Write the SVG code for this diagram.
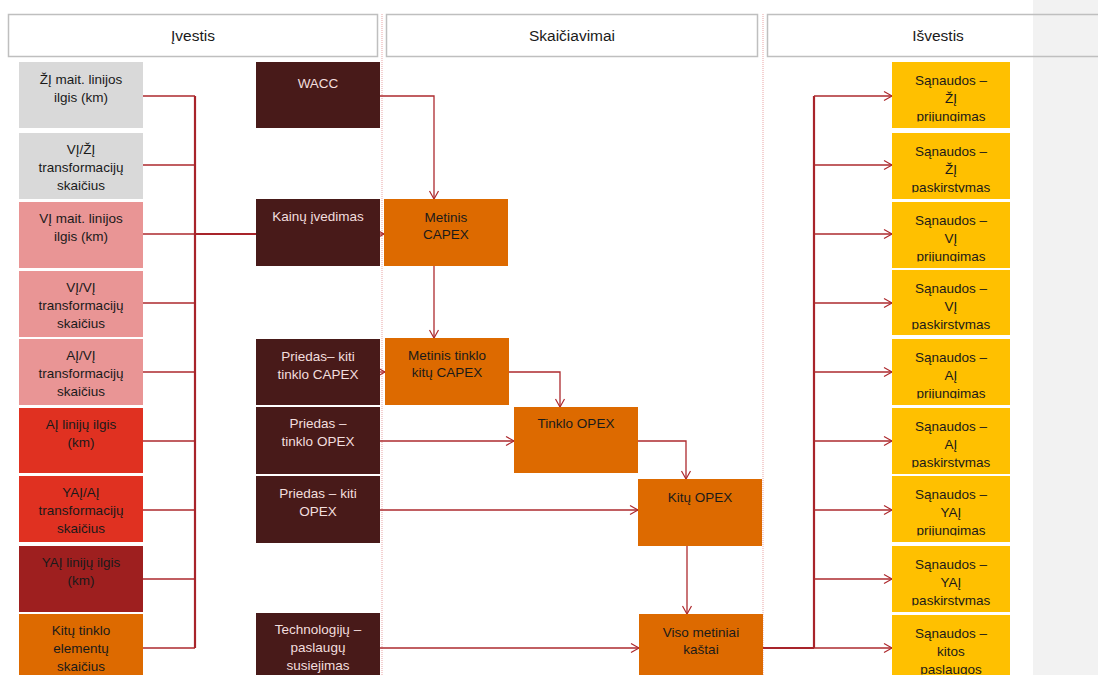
<svg xmlns="http://www.w3.org/2000/svg" width="1098" height="675" viewBox="0 0 1098 675">
<style>
text{font-family:"Liberation Sans",Arial,sans-serif;font-size:13.5px;text-anchor:middle;fill:#1a1a1a}
.hd{font-size:15.5px}
.lt{fill:#f2dede}
.hdr{fill:none;stroke:#bfbfbf;stroke-width:1.5}
.g{fill:#d9d9d9}.p{fill:#e99595}.r{fill:#e03121}.dr{fill:#9e1f1f}.o{fill:#dd6a00}.d{fill:#481a19}.y{fill:#ffc000}
.c{fill:none;stroke:#ad2a2e;stroke-width:1.3}
.t{fill:none;stroke:#a8242a;stroke-width:2.2}
.a{marker-end:url(#ar)}
.dot{stroke:#e9a3a3;stroke-width:1;stroke-dasharray:1 1}
</style>
<defs>
<marker id="ar" markerUnits="userSpaceOnUse" markerWidth="12" markerHeight="12" refX="10" refY="6" orient="auto">
<path d="M2,1.5 L10,6 L2,10.5" fill="none" stroke="#ad2a2e" stroke-width="1.2"/>
</marker>
<clipPath id="yc" clipPathUnits="userSpaceOnUse">
<rect x="892" y="62" width="118" height="59.5"/>
<rect x="892" y="133" width="118" height="59.5"/>
<rect x="892" y="202" width="118" height="59.5"/>
<rect x="892" y="270" width="118" height="59.5"/>
<rect x="892" y="339" width="118" height="59.5"/>
<rect x="892" y="408" width="118" height="59.5"/>
<rect x="892" y="476" width="118" height="59.5"/>
<rect x="892" y="546" width="118" height="59.5"/>
<rect x="892" y="615" width="118" height="59.5"/>
</clipPath>
</defs>
<rect x="0" y="0" width="1098" height="675" fill="#ffffff"/>
<rect x="1033" y="0" width="65" height="675" fill="#f2f2f2"/>
<line class="dot" x1="382" y1="14" x2="382" y2="675"/>
<line class="dot" x1="763" y1="14" x2="763" y2="675"/>

<g id="headers">
<g id="h-ivestis"><rect class="hdr" x="8.5" y="14.5" width="369" height="42"/><text class="hd" x="193" y="40.5">Įvestis</text></g>
<g id="h-skaiciavimai"><rect class="hdr" x="386.5" y="14.5" width="371" height="42"/><text class="hd" x="572" y="40.5">Skaičiavimai</text></g>
<g id="h-isvestis"><rect class="hdr" x="767.5" y="14.5" width="345" height="42"/><text class="hd" x="938" y="40.5">Išvestis</text></g>
</g>

<g id="connectors">
<path class="c" d="M143,96 H195 M143,165 H195 M143,234 H195 M143,303 H195 M143,372 H195 M143,441 H195 M143,510 H195 M143,579 H195 M143,648 H195"/>
<path class="t" d="M195,96 V648 M195,234 H256"/>
<path class="c a" d="M380,96 H434 V199"/>
<path class="c a" d="M434,266 V338"/>
<path class="c a" d="M380,234 H384"/>
<path class="c a" d="M380,372 H385"/>
<path class="c a" d="M509,372 H560 V407"/>
<path class="c a" d="M380,441 H514"/>
<path class="c a" d="M638,441 H686 V479"/>
<path class="c a" d="M380,510 H638"/>
<path class="c a" d="M687,546 V614"/>
<path class="c a" d="M380,648 H639"/>
<path class="t" d="M763,648 H814 M814,96 V648"/>
<path class="c a" d="M814,96 H892"/>
<path class="c a" d="M814,165 H892"/>
<path class="c a" d="M814,234 H892"/>
<path class="c a" d="M814,303 H892"/>
<path class="c a" d="M814,372 H892"/>
<path class="c a" d="M814,441 H892"/>
<path class="c a" d="M814,510 H892"/>
<path class="c a" d="M814,579 H892"/>
<path class="c a" d="M814,648 H892"/>
</g>

<g id="in1"><rect class="g" x="19" y="62" width="124" height="66"/><text x="81" y="84">ŽĮ mait. linijos</text><text x="81" y="102">ilgis (km)</text></g>
<g id="in2"><rect class="g" x="19" y="133" width="124" height="66"/><text x="81" y="154">VĮ/ŽĮ</text><text x="81" y="172">transformacijų</text><text x="81" y="190">skaičius</text></g>
<g id="in3"><rect class="p" x="19" y="202" width="124" height="66"/><text x="81" y="223">VĮ mait. linijos</text><text x="81" y="241">ilgis (km)</text></g>
<g id="in4"><rect class="p" x="19" y="271" width="124" height="66"/><text x="81" y="292">VĮ/VĮ</text><text x="81" y="310">transformacijų</text><text x="81" y="328">skaičius</text></g>
<g id="in5"><rect class="p" x="19" y="339" width="124" height="66"/><text x="81" y="360">AĮ/VĮ</text><text x="81" y="378">transformacijų</text><text x="81" y="396">skaičius</text></g>
<g id="in6"><rect class="r" x="19" y="408" width="124" height="65"/><text x="81" y="429">AĮ linijų ilgis</text><text x="81" y="447">(km)</text></g>
<g id="in7"><rect class="r" x="19" y="476" width="124" height="66"/><text x="81" y="497">YAĮ/AĮ</text><text x="81" y="515">transformacijų</text><text x="81" y="533">skaičius</text></g>
<g id="in8"><rect class="dr" x="19" y="546" width="124" height="66"/><text x="81" y="567">YAĮ linijų ilgis</text><text x="81" y="585">(km)</text></g>
<g id="in9"><rect class="o" x="19" y="614" width="124" height="66"/><text x="81" y="635">Kitų tinklo</text><text x="81" y="653">elementų</text><text x="81" y="671">skaičius</text></g>

<g id="wacc"><rect class="d" x="256" y="62" width="124" height="66"/><text class="lt" x="318" y="88">WACC</text></g>
<g id="kainu"><rect class="d" x="256" y="199" width="124" height="67"/><text class="lt" x="318" y="221">Kainų įvedimas</text></g>
<g id="priedas-capex"><rect class="d" x="256" y="339" width="124" height="66"/><text class="lt" x="318" y="361">Priedas– kiti</text><text class="lt" x="318" y="378.5">tinklo CAPEX</text></g>
<g id="priedas-topex"><rect class="d" x="256" y="407" width="124" height="67"/><text class="lt" x="318" y="428">Priedas –</text><text class="lt" x="318" y="446">tinklo OPEX</text></g>
<g id="priedas-kopex"><rect class="d" x="256" y="476" width="124" height="67"/><text class="lt" x="318" y="498">Priedas – kiti</text><text class="lt" x="318" y="516">OPEX</text></g>
<g id="tech"><rect class="d" x="256" y="613" width="124" height="67"/><text class="lt" x="318" y="634">Technologijų –</text><text class="lt" x="318" y="652">paslaugų</text><text class="lt" x="318" y="670">susiejimas</text></g>

<g id="metinis-capex"><rect class="o" x="384" y="199" width="124" height="67"/><text x="446" y="222">Metinis</text><text x="446" y="238.5">CAPEX</text></g>
<g id="metinis-tinklo"><rect class="o" x="385" y="338" width="124" height="67"/><text x="447" y="360">Metinis tinklo</text><text x="447" y="377">kitų CAPEX</text></g>
<g id="tinklo-opex"><rect class="o" x="514" y="407" width="124" height="66"/><text x="576" y="428">Tinklo OPEX</text></g>
<g id="kitu-opex"><rect class="o" x="638" y="479" width="124" height="67"/><text x="700" y="502">Kitų OPEX</text></g>
<g id="viso"><rect class="o" x="639" y="614" width="124" height="66"/><text x="701" y="637">Viso metiniai</text><text x="701" y="653.5">kaštai</text></g>

<g id="outputs">
<g id="out1"><rect class="y" x="892" y="62" width="118" height="66"/><g clip-path="url(#yc)"><text x="951" y="85">Sąnaudos –</text><text x="951" y="103">ŽĮ</text><text x="951" y="121">prijungimas</text></g></g>
<g id="out2"><rect class="y" x="892" y="133" width="118" height="66"/><g clip-path="url(#yc)"><text x="951" y="156">Sąnaudos –</text><text x="951" y="174">ŽĮ</text><text x="951" y="192">paskirstymas</text></g></g>
<g id="out3"><rect class="y" x="892" y="202" width="118" height="66"/><g clip-path="url(#yc)"><text x="951" y="225">Sąnaudos –</text><text x="951" y="243">VĮ</text><text x="951" y="261">prijungimas</text></g></g>
<g id="out4"><rect class="y" x="892" y="270" width="118" height="65"/><g clip-path="url(#yc)"><text x="951" y="293">Sąnaudos –</text><text x="951" y="311">VĮ</text><text x="951" y="329">paskirstymas</text></g></g>
<g id="out5"><rect class="y" x="892" y="339" width="118" height="66"/><g clip-path="url(#yc)"><text x="951" y="362">Sąnaudos –</text><text x="951" y="380">AĮ</text><text x="951" y="398">prijungimas</text></g></g>
<g id="out6"><rect class="y" x="892" y="408" width="118" height="66"/><g clip-path="url(#yc)"><text x="951" y="431">Sąnaudos –</text><text x="951" y="449">AĮ</text><text x="951" y="467">paskirstymas</text></g></g>
<g id="out7"><rect class="y" x="892" y="476" width="118" height="66"/><g clip-path="url(#yc)"><text x="951" y="499">Sąnaudos –</text><text x="951" y="517">YAĮ</text><text x="951" y="535">prijungimas</text></g></g>
<g id="out8"><rect class="y" x="892" y="546" width="118" height="66"/><g clip-path="url(#yc)"><text x="951" y="569">Sąnaudos –</text><text x="951" y="587">YAĮ</text><text x="951" y="605">paskirstymas</text></g></g>
<g id="out9"><rect class="y" x="892" y="615" width="118" height="65"/><g clip-path="url(#yc)"><text x="951" y="638">Sąnaudos –</text><text x="951" y="656">kitos</text><text x="951" y="674">paslaugos</text></g></g>
</g>
</svg>
